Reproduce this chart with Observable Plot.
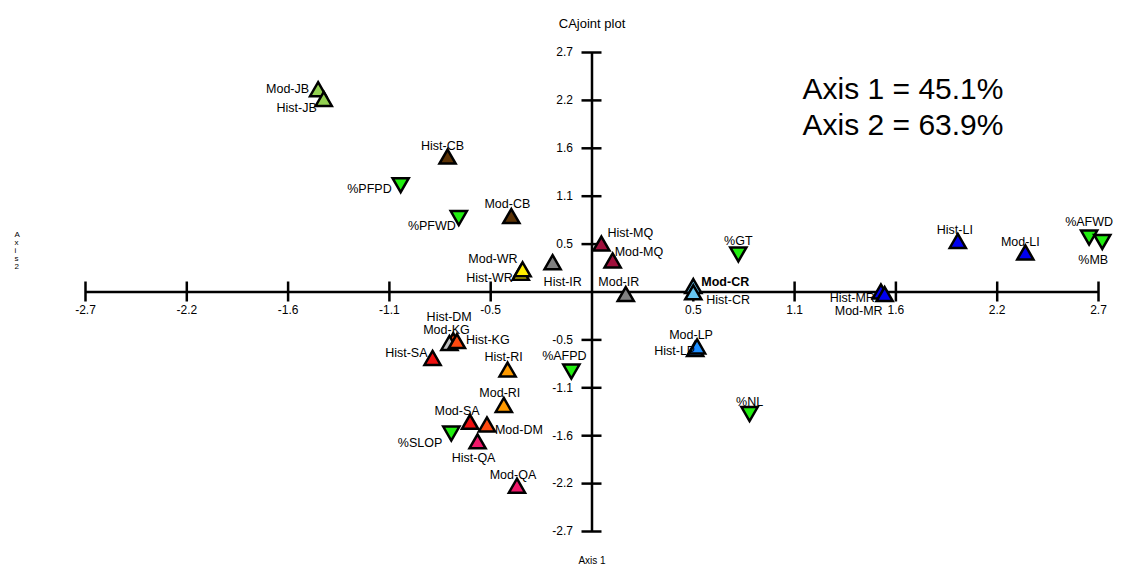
<!DOCTYPE html>
<html><head><meta charset="utf-8">
<script src="https://cdn.jsdelivr.net/npm/d3@7"></script>
<script src="https://cdn.jsdelivr.net/npm/@observablehq/plot@0.6"></script>
<style>body{margin:0;background:#fff} #chart svg{display:block}</style>
</head><body><div id="chart"></div>
<script>
// ---- data ----
const labels = ["Mod-JB","Hist-JB","Hist-CB","%PFPD","%PFWD","Mod-CB","Hist-MQ","Mod-MQ","Hist-WR","Mod-WR","Hist-IR","Mod-IR","Mod-CR","Hist-CR","%GT","Hist-LP","Mod-LP","%NL","Hist-LI","Mod-LI","%AFWD","%MB","Hist-MR","Mod-MR","Hist-DM","Mod-KG","Hist-KG","Hist-SA","Hist-RI","%AFPD","Mod-RI","Mod-SA","Mod-DM","%SLOP","Hist-QA","Mod-QA"];
const axis1 =  [-1.46,-1.43,-0.77,-1.02,-0.71,-0.43,0.05,0.11,-0.38,-0.37,-0.21,0.18,0.54,0.54,0.78,0.55,0.56,0.84,1.95,2.31,2.65,2.72,1.54,1.56,-0.74,-0.76,-0.72,-0.85,-0.45,-0.11,-0.47,-0.65,-0.56,-0.75,-0.61,-0.40];
const axis2 =  [2.26,2.15,1.50,1.23,0.86,0.83,0.52,0.33,0.19,0.23,0.31,-0.05,0.04,-0.03,0.45,-0.67,-0.64,-1.35,0.55,0.42,0.64,0.59,-0.02,-0.05,-0.57,-0.60,-0.58,-0.77,-0.90,-0.87,-1.30,-1.49,-1.52,-1.57,-1.71,-2.21];
const tickValues = [-2.7,-2.16,-1.62,-1.08,-0.54,0.54,1.08,1.62,2.16,2.7];
const tickLabels = ["-2.7","-2.2","-1.6","-1.1","-0.5","0.5","1.1","1.6","2.2","2.7"];
const inertia = ["Axis 1 = 45.1%","Axis 2 = 63.9%"];
const titleText = "CAjoint plot";
const xTitle = "Axis 1";
const yTitle = "Axis 2";

// ---- styles ----
const colorOf = {
  "JB":"#92d050","CB":"#5c3306","MQ":"#a0103c","WR":"#ffee00","IR":"#808080",
  "CR":"#66c6f2","LP":"#1e8fff","LI":"#0000f0","MR":"#0000f0","KG":"#ff4a10",
  "DM":"#ff4a10","SA":"#ee1010","RI":"#ff9a00","QA":"#f0186a"
};
const specialColor = {"Mod-KG":"#c0c0c0"};
const varColor = "#22ee11";
// label offsets: [textAnchor, dx, dy]
const labelOffsets = {
  "Mod-JB":["end",-9,-3],"Hist-JB":["end",-7,7],"Hist-CB":["middle",-5,-13],
  "%PFPD":["end",-9,6],"%PFWD":["end",-3,10],"Mod-CB":["middle",-4,-14],
  "Hist-MQ":["start",6,-13],"Mod-MQ":["start",2,-11],"Mod-WR":["end",-5,-13],
  "Hist-WR":["end",-8,3],"Hist-IR":["start",-9,17],"Mod-IR":["middle",-7,-14],
  "Mod-CR":["start",8,-6],"Hist-CR":["start",13,5],"%GT":["middle",0,-11],
  "Mod-LP":["middle",-6,-14],"Hist-LP":["end",0,0],"%NL":["middle",0,-10],
  "Hist-LI":["middle",-3,-13],"Mod-LI":["middle",-5,-13],"%AFWD":["middle",0,-13],
  "%MB":["middle",-9,20],"Hist-MR":["end",-6,4],"Mod-MR":["end",-2,15],
  "Mod-KG":["middle",-3,-15],"Hist-DM":["middle",-4,-26],"Hist-KG":["start",9,-3],
  "Hist-SA":["end",-5,-7],"Hist-RI":["middle",-4,-15],"%AFPD":["middle",-7,-13],
  "Mod-RI":["middle",-4,-14],"Mod-SA":["middle",-13,-13],"Mod-DM":["start",8,3],
  "%SLOP":["end",-9,12],"Hist-QA":["middle",-4,14],"Mod-QA":["middle",-4,-13]
};

const W = 1124, H = 573;
const mL = 85, mR = 26, mT = 52, mB = 42;
const pxX = (W - mL - mR) / 5.4, pxY = (H - mT - mB) / 5.4;
const tickX = 10 / pxX, tickY = 10 / pxY;

const points = labels.map((label, i) => {
  const isVar = label.startsWith("%");
  const code = label.split("-")[1];
  return {
    label, a1: axis1[i], a2: axis2[i], isVar,
    color: isVar ? varColor : (specialColor[label] || colorOf[code])
  };
});

const font = "'Liberation Sans', Arial, sans-serif";

const labelMarks = points.map(p => {
  const [anchor, dx, dy] = labelOffsets[p.label];
  return Plot.text([p], {
    x: "a1", y: "a2", text: "label", textAnchor: anchor, dx, dy,
    fontSize: 12.5, fill: "black", fontWeight: p.label === "Mod-CR" ? "bold" : "normal"
  });
});

const chart = Plot.plot({
  width: W, height: H,
  marginLeft: mL, marginRight: mR, marginTop: mT, marginBottom: mB,
  x: {domain: [-2.7, 2.7], axis: null},
  y: {domain: [-2.7, 2.7], axis: null},
  style: {fontFamily: font, background: "white", color: "black"},
  marks: [
    // axes through origin
    Plot.ruleY([0], {x1: -2.7, x2: 2.7, stroke: "black", strokeWidth: 2.5}),
    Plot.ruleX([0], {y1: -2.7, y2: 2.7, stroke: "black", strokeWidth: 2.5}),
    Plot.ruleX(tickValues, {x: d => d, y1: -tickY, y2: tickY, stroke: "black", strokeWidth: 2.5}),
    Plot.ruleY(tickValues, {y: d => d, x1: -tickX, x2: tickX, stroke: "black", strokeWidth: 2.5}),
    Plot.text(tickValues, {x: d => d, y: 0, text: (d, i) => tickLabels[i], dy: 18, fontSize: 12, fill: "black"}),
    Plot.text(tickValues, {x: 0, y: d => d, text: (d, i) => tickLabels[i], dx: -19, textAnchor: "end", fontSize: 12, fill: "black"}),
    // points
    Plot.dot(points, {
      x: "a1", y: "a2", symbol: "triangle", r: 6,
      rotate: d => d.isVar ? 180 : 0,
      fill: d => d.color, stroke: "black", strokeWidth: 2.5
    }),
    ...labelMarks,
    // annotations
    Plot.text([inertia.join("\n")], {frameAnchor: "top-left", text: d => d, textAnchor: "start", lineAnchor: "top", dx: 717, dy: 21, fontSize: 30, lineHeight: 1.2, fill: "black"}),
    Plot.text([titleText], {frameAnchor: "top", text: d => d, dy: -34, fontSize: 13, fill: "black"}),
    Plot.text([xTitle], {frameAnchor: "bottom", text: d => d, dy: 32, fontSize: 10, fill: "black"}),
    Plot.text([yTitle.replace(" ", "").split("").join("\n")], {frameAnchor: "left", text: d => d, dx: -71, dy: -42, fontSize: 8, lineHeight: 1.0, fill: "black"})
  ]
});
document.getElementById("chart").appendChild(chart);
</script>
</body></html>
